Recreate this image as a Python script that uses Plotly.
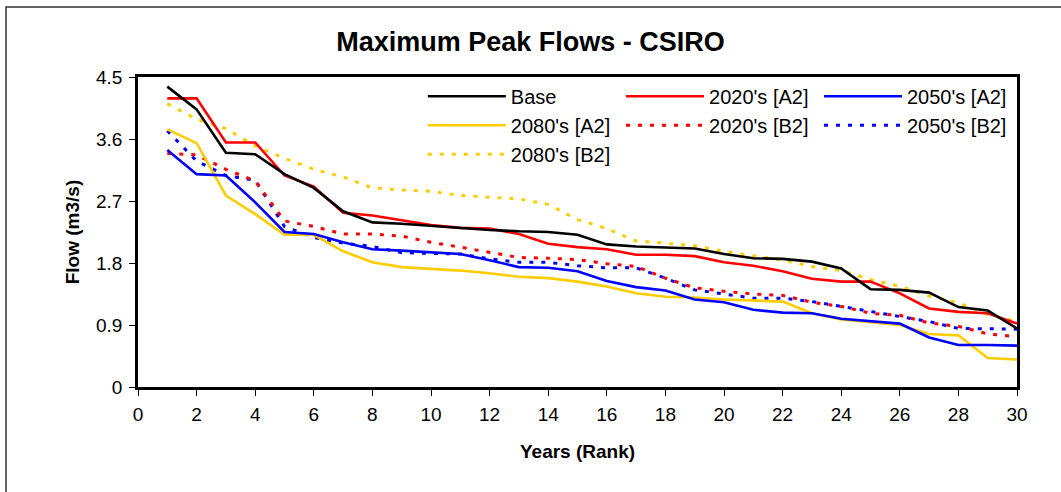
import plotly.graph_objects as go

ranks = list(range(1, 31))

base = [4.36, 4.03, 3.40, 3.38, 3.09, 2.89, 2.55, 2.39, 2.37, 2.34, 2.30, 2.28, 2.26, 2.25, 2.21,
        2.07, 2.04, 2.03, 2.01, 1.93, 1.87, 1.86, 1.82, 1.72, 1.42, 1.41, 1.37, 1.16, 1.11, 0.85]
a2_2020 = [4.19, 4.19, 3.55, 3.55, 3.07, 2.91, 2.53, 2.49, 2.42, 2.35, 2.31, 2.30, 2.22, 2.08, 2.03,
           2.00, 1.92, 1.92, 1.90, 1.81, 1.76, 1.68, 1.57, 1.53, 1.53, 1.36, 1.14, 1.09, 1.07, 0.92]
a2_2050 = [3.44, 3.09, 3.07, 2.68, 2.25, 2.22, 2.10, 2.00, 1.98, 1.96, 1.93, 1.84, 1.74, 1.73, 1.68,
           1.54, 1.45, 1.40, 1.27, 1.23, 1.12, 1.08, 1.07, 0.99, 0.95, 0.92, 0.72, 0.61, 0.61, 0.60]
a2_2080 = [3.74, 3.54, 2.78, 2.51, 2.21, 2.21, 1.97, 1.81, 1.74, 1.72, 1.69, 1.65, 1.60, 1.58, 1.53,
           1.46, 1.36, 1.31, 1.30, 1.27, 1.25, 1.24, 1.07, 0.98, 0.94, 0.90, 0.77, 0.75, 0.42, 0.40]
b2_2020 = [3.39, 3.37, 3.16, 2.99, 2.41, 2.33, 2.22, 2.22, 2.19, 2.10, 2.03, 1.95, 1.88, 1.87, 1.85,
           1.79, 1.75, 1.58, 1.44, 1.39, 1.35, 1.33, 1.23, 1.17, 1.07, 1.04, 0.93, 0.88, 0.77, 0.73]
b2_2050 = [3.72, 3.28, 3.07, 3.00, 2.33, 2.17, 2.09, 2.04, 1.95, 1.94, 1.93, 1.86, 1.81, 1.81, 1.76,
           1.73, 1.73, 1.58, 1.41, 1.35, 1.29, 1.29, 1.24, 1.17, 1.10, 1.02, 0.95, 0.85, 0.84, 0.84]
b2_2080 = [4.11, 3.89, 3.75, 3.50, 3.32, 3.16, 3.05, 2.89, 2.86, 2.84, 2.78, 2.76, 2.73, 2.65, 2.43,
           2.30, 2.12, 2.09, 2.05, 1.97, 1.90, 1.84, 1.75, 1.69, 1.56, 1.46, 1.32, 1.22, 1.05, 0.95]

x_ticks = list(range(0, 31, 2))
y_ticks = [0, 0.9, 1.8, 2.7, 3.6, 4.5]
y_tick_labels = ["0", "0.9", "1.8", "2.7", "3.6", "4.5"]

FONT = "Liberation Sans, Arial, sans-serif"
BLACK, RED, BLUE, GOLD = "#000000", "#FF0000", "#0000FF", "#FFCC00"
DOT = "4px,8px"

series = [
    ("Base", base, BLACK, "solid", "legend"),
    ("2080's [A2]", a2_2080, GOLD, "solid", "legend"),
    ("2080's [B2]", b2_2080, GOLD, DOT, "legend"),
    ("2020's [A2]", a2_2020, RED, "solid", "legend2"),
    ("2020's [B2]", b2_2020, RED, DOT, "legend2"),
    ("2050's [A2]", a2_2050, BLUE, "solid", "legend3"),
    ("2050's [B2]", b2_2050, BLUE, DOT, "legend3"),
]
draw_order = ["2080's [B2]", "2050's [B2]", "2020's [B2]", "2080's [A2]", "2050's [A2]", "2020's [A2]", "Base"]

fig = go.Figure()
lookup = {s[0]: s for s in series}
names = [s[0] for s in series]
for name in draw_order:
    n, vals, col, dash, leg = lookup[name]
    fig.add_trace(go.Scatter(
        x=ranks, y=vals, mode="lines", name=n,
        line=dict(color=col, width=2.6 if dash == "solid" else 3, dash=dash),
        legend=leg, legendgroup=n,
        legendrank=names.index(n),
    ))

leg_common = dict(
    yanchor="top", y=1.001, xanchor="left",
    bgcolor="rgba(0,0,0,0)", borderwidth=0,
    font=dict(family=FONT, size=20, color="black"),
    itemwidth=78, tracegroupgap=0, orientation="v",
)

fig.update_layout(
    width=1061, height=492,
    margin=dict(l=138, r=44, t=77, b=105),
    paper_bgcolor="white", plot_bgcolor="white",
    font=dict(family=FONT, size=19, color="black"),
    title=dict(text="Maximum Peak Flows - CSIRO", x=0.5, xref="container", xanchor="center",
               y=1 - 42 / 492, yref="container", yanchor="middle",
               font=dict(family=FONT, size=27, color="black", weight="bold")),
    legend=dict(x=0.324, **leg_common),
    legend2=dict(x=0.5495, **leg_common),
    legend3=dict(x=0.7747, **leg_common),
    xaxis=dict(range=[0, 30], tickvals=x_ticks, ticktext=[str(v) for v in x_ticks],
               showgrid=False, zeroline=False, showline=True, linecolor="black", linewidth=2.5,
               mirror=True, ticks="outside", ticklen=6, tickwidth=1, tickcolor="black",
               ticklabelstandoff=2,
               tickfont=dict(family=FONT, size=19),
               title=dict(text="Years (Rank)", standoff=22,
                          font=dict(family=FONT, size=19, weight="bold"))),
    yaxis=dict(range=[0, 4.5], tickvals=y_ticks, ticktext=y_tick_labels,
               showgrid=False, zeroline=False, showline=True, linecolor="black", linewidth=2.5,
               mirror=True, ticks="outside", ticklen=6, tickwidth=1, tickcolor="black",
               ticklabelstandoff=3,
               tickfont=dict(family=FONT, size=19),
               title=dict(text="Flow (m3/s)", standoff=12,
                          font=dict(family=FONT, size=19, weight="bold"))),
    showlegend=True,
)

# outer chart border
fig.add_shape(type="rect", xref="paper", yref="paper",
              x0=(6 - 138) / 879, x1=(1070 - 138) / 879,
              y0=(387 - 510) / 310, y1=(387 - 7) / 310,
              line=dict(color="#333333", width=1.5), fillcolor="rgba(0,0,0,0)", layer="below")

fig.write_html("out.html", config={"displayModeBar": False},
               post_script="document.body.style.margin='0';document.body.style.overflow='hidden';")
